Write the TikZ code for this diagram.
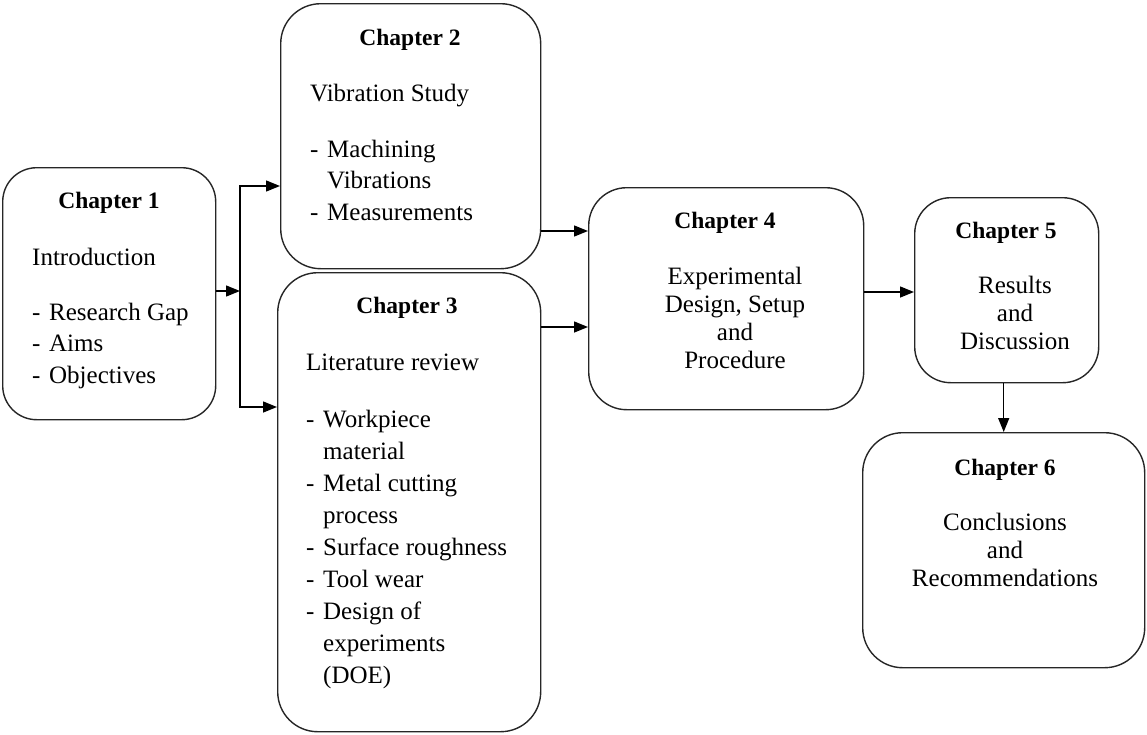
\documentclass[tikz,border=0pt]{standalone}
\usepackage{fontspec}
\setmainfont{Liberation Serif}
\usetikzlibrary{arrows.meta}
\newcommand{\dsh}{\makebox[17pt][l]{-}}
\newcommand{\ind}{\hspace*{17pt}}
\begin{document}
\begin{tikzpicture}[x=1pt,y=-1pt,
  box/.style={draw=black!85, line width=1.4pt, inner sep=0pt, anchor=north west},
  ttl/.style={anchor=base, inner sep=0pt, font=\fontsize{23.5}{28}\selectfont\bfseries},
  body/.style={anchor=base west, inner sep=0pt, align=left, font=\fontsize{25}{31.5}\selectfont},
  cbody/.style={anchor=base, inner sep=0pt, align=center, font=\fontsize{25}{28}\selectfont},
  arr/.style={line width=1.4pt, -{Triangle[length=14pt,width=11pt]}}]
\useasboundingbox (0,0) rectangle (1147,734);
% boxes
\node[box, rounded corners=34pt, minimum width=213pt, minimum height=252pt] (c1) at (2,167) {};
\node[box, rounded corners=40pt, minimum width=260pt, minimum height=265pt] (c2) at (280,3) {};
\node[box, rounded corners=40pt, minimum width=263pt, minimum height=459pt] (c3) at (277,272) {};
\node[box, rounded corners=38pt, minimum width=275pt, minimum height=222pt] (c4) at (588,187) {};
\node[box, rounded corners=36pt, minimum width=184pt, minimum height=185pt] (c5) at (914,197) {};
\node[box, rounded corners=40pt, minimum width=282pt, minimum height=235pt] (c6) at (862,432) {};
% titles
\node[ttl] (t1) at (109,208) {Chapter 1};
\node[ttl] (t2) at (410,45) {Chapter 2};
\node[ttl] (t3) at (407,313) {Chapter 3};
\node[ttl] (t4) at (725,228) {Chapter 4};
\node[ttl] (t5) at (1006,238) {Chapter 5};
\node[ttl] (t6) at (1005,475) {Chapter 6};
% bodies (anchored at the baseline of their last line)
\node[body] (b1) at (32,383) {Introduction\\[23.5pt]
  \dsh Research Gap\\ \dsh Aims\\ \dsh Objectives};
\node[body] (b2) at (310,220) {Vibration Study\\[24.5pt]
  \dsh Machining\\ \ind Vibrations\\ \dsh Measurements};
\node[body, font=\fontsize{25}{32}\selectfont] (b3) at (306,683) {Literature review\\[25pt]
  \dsh Workpiece\\ \ind material\\ \dsh Metal cutting\\ \ind process\\
  \dsh Surface roughness\\ \dsh Tool wear\\ \dsh Design of\\ \ind experiments\\ \ind (DOE)};
\node[cbody] (b4) at (735,368) {Experimental\\ Design, Setup\\ and\\ Procedure};
\node[cbody] (b5) at (1015,349) {Results\\ and\\ Discussion};
\node[cbody] (b6) at (1005,586) {Conclusions\\ and\\ Recommendations};
% connectors
\coordinate (split) at (240,291);
\coordinate (y2) at (0,186);
\coordinate (y3) at (0,407);
\coordinate (y24) at (0,231);
\coordinate (y34) at (0,327);
\coordinate (y45) at (0,292);
\draw[arr] (c1.east |- split) -- (split);
\draw[arr] (split) -- (split |- y2) -- (c2.west |- y2);
\draw[arr] (split) -- (split |- y3) -- (c3.west |- y3);
\draw[arr] (c2.east |- y24) -- (c4.west |- y24);
\draw[arr] (c3.east |- y34) -- (c4.west |- y34);
\draw[arr] (c4.east |- y45) -- (c5.west |- y45);
\draw[arr] (c5.south -| c6.north) -- (c6.north);
\end{tikzpicture}
\end{document}
